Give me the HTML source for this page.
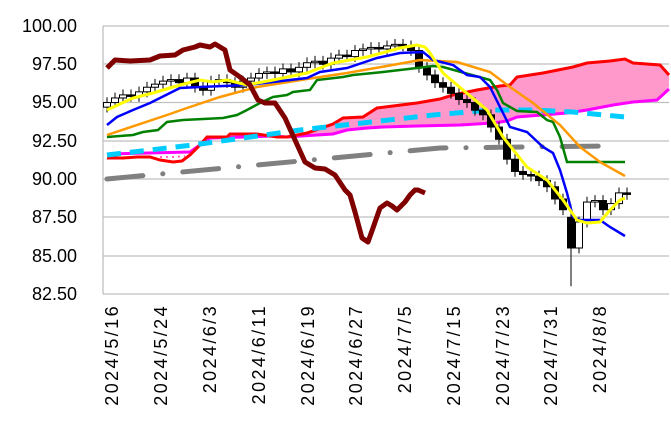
<!DOCTYPE html>
<html><head><meta charset="utf-8"><style>
body{margin:0;background:#fff;}
svg{display:block;font-family:"Liberation Sans",sans-serif;}
</style></head><body>
<svg id="s" width="671" height="423" viewBox="0 0 671 423" xmlns="http://www.w3.org/2000/svg">
<g stroke="#bfbfbf" stroke-width="1.3">
<line x1="103" y1="26" x2="669" y2="26"/><line x1="103" y1="64" x2="669" y2="64"/>
<line x1="103" y1="102.5" x2="669" y2="102.5"/><line x1="103" y1="141" x2="669" y2="141"/>
<line x1="103" y1="179" x2="669" y2="179"/><line x1="103" y1="217" x2="669" y2="217"/>
<line x1="103" y1="256" x2="669" y2="256"/><line x1="103" y1="294" x2="669" y2="294"/>
<line x1="103" y1="26" x2="103" y2="294"/>
</g>
<g font-size="18" fill="#000" text-anchor="end">
<text x="77" y="32">100.00</text><text x="77" y="70">97.50</text><text x="77" y="108">95.00</text>
<text x="77" y="147">92.50</text><text x="77" y="185">90.00</text><text x="77" y="223">87.50</text>
<text x="77" y="262">85.00</text><text x="77" y="300">82.50</text>
</g>
<g font-size="18" fill="#000" text-anchor="end" letter-spacing="2.4">
<text transform="translate(118,304) rotate(-90)">2024/5/16</text>
<text transform="translate(167,304) rotate(-90)">2024/5/24</text>
<text transform="translate(216,304) rotate(-90)">2024/6/3</text>
<text transform="translate(265,304) rotate(-90)">2024/6/11</text>
<text transform="translate(314,304) rotate(-90)">2024/6/19</text>
<text transform="translate(362,304) rotate(-90)">2024/6/27</text>
<text transform="translate(411,304) rotate(-90)">2024/7/5</text>
<text transform="translate(460,304) rotate(-90)">2024/7/15</text>
<text transform="translate(509,304) rotate(-90)">2024/7/23</text>
<text transform="translate(557,304) rotate(-90)">2024/7/31</text>
<text transform="translate(606,304) rotate(-90)">2024/8/8</text>
</g>
<polygon fill="#ff99cc" points="200,145 207,137 227,137 230,134 257,134 277,137 287,137 307,133 333,124 343,118 363,117 377,108 393,106 417,103 440,99 453,95 477,90 500,86 510,85 517,77 543,73 573,67 587,63 610,61 625,59 633,63 660,65 669,75 669,87 657,100 633,102 613,105 587,110 567,113 517,117 507,121 493,123 460,125 400,127 383,127 367,128 347,130 333,134 317,135 287,137 273,136 210,138"/>
<polyline fill="none" stroke="#ff66cc" stroke-width="2" stroke-dasharray="2 4" points="160,157 175,157 185,156"/>
<polyline fill="none" stroke="#ff00ff" stroke-width="3" points="107,154 190,152 200,145 210,138 273,136 287,137 317,135 333,134 347,130 367,128 383,127 417,126 460,125 493,123 507,121 517,117 567,113 587,110 613,105 633,102 657,100 669,89"/>
<polyline fill="none" stroke="#ff0000" stroke-width="3" points="107,158 123,158 137,157 150,157 160,160 173,162 182,161 190,155 200,145 207,137 227,137 230,134 257,134 277,137 287,137 307,133 333,124 343,118 363,117 377,108 393,106 417,103 440,99 453,95 477,90 500,86 510,85 517,77 543,73 573,67 587,63 610,61 625,59 633,63 660,65 669,75"/>
<polyline fill="none" stroke="#808080" stroke-width="5" stroke-linecap="round" stroke-dasharray="36 20 0.1 20" points="107,179 440,148 608,146"/>
<polyline fill="none" stroke="#00ccff" stroke-width="5" stroke-dasharray="14 9" points="107,155 193,145 300,130 433,115 490,110 533,110 573,112 625,117"/>
<g id="c"></g>
<polyline fill="none" stroke="#008000" stroke-width="2.5" points="107,137 133,135 143,132 158,130 167,122 183,120 223,118 237,115 247,110 260,103 273,97 287,95 293,92 310,90 317,80 343,77 353,75 383,72 417,68 433,66 443,67 490,80 497,90 503,103 517,111 537,112 547,120 553,122 560,137 567,162 625,162"/>
<polyline fill="none" stroke="#ff9900" stroke-width="2.5" points="107,135 167,115 187,108 220,97 257,87 307,79 347,73 387,66 420,60 457,62 490,72 510,87 533,103 560,125 580,147 600,162 625,176"/>
<polyline fill="none" stroke="#0000ff" stroke-width="2.5" points="107,125 117,117 133,110 150,103 180,88 200,87 247,85 307,78 320,72 347,68 377,58 400,53 423,52 433,60 453,65 467,75 480,77 490,87 500,107 510,127 527,132 543,147 553,153 560,170 567,193 573,217 580,220 600,220 610,227 625,236"/>
<polyline fill="none" stroke="#ffff00" stroke-width="3" points="107,110 133,98 153,93 180,85 200,80 213,82 227,80 247,85 273,80 307,73 333,63 367,57 400,48 417,45 425,47 430,53 443,73 463,90 487,110 503,137 527,167 547,180 563,200 577,220 587,223 600,222 610,210 620,200 625,198"/>
<polyline fill="none" stroke="#800000" stroke-width="5" stroke-linejoin="round" points="107,68 115,60 130,61 150,60 160,56 175,55 183,50 195,47 200,45 210,47 215,44 225,50 230,70 240,77 250,85 258,100 265,103 275,103 285,118 295,140 305,162 315,168 325,169 335,175 345,190 350,195 355,212 362,238 368,242 373,228 380,208 387,203 392,206 397,210 405,202 410,195 415,190 418,190 425,193"/>
</svg>
<script>
var v=[95.0,95.3,95.5,95.4,95.7,96.0,96.2,96.4,96.5,96.3,96.6,96.0,95.8,96.4,96.5,96.3,96.0,96.4,96.6,96.9,97.0,96.9,97.2,97.0,97.3,97.6,97.7,97.5,97.9,98.1,98.0,98.4,98.5,98.6,98.5,98.7,98.8,98.7,98.4,97.3,96.8,96.3,96.0,95.6,95.2,95.0,94.5,94.2,93.4,92.6,91.3,90.5,90.3,90.2,89.9,89.5,88.7,88.0,85.5,87.2,88.5,88.6,88.0,88.4,89.1,89.0];
function Y(p){return 26+(100-p)*15.31;}
var s='',o=94.7;
for(var i=0;i<v.length;i++){var c=v[i],x=107+8*i,hi=Math.max(o,c)+0.35,lo=Math.min(o,c)-0.35;if(i==58){lo=83.0;o=87.5;}
s+='<line x1="'+x+'" x2="'+x+'" y1="'+Y(hi)+'" y2="'+Y(lo)+'" stroke="#000" stroke-width="1"/>';
var t=Y(Math.max(o,c)),h=Math.max(1.5,Math.abs(Y(o)-Y(c)));
s+='<rect x="'+(x-3.5)+'" y="'+t+'" width="7" height="'+h+'" fill="'+(c<o?'#000':'#fff')+'" stroke="#000" stroke-width="1"/>';o=c;}
document.getElementById('c').innerHTML=s;
</script>
</body></html>
